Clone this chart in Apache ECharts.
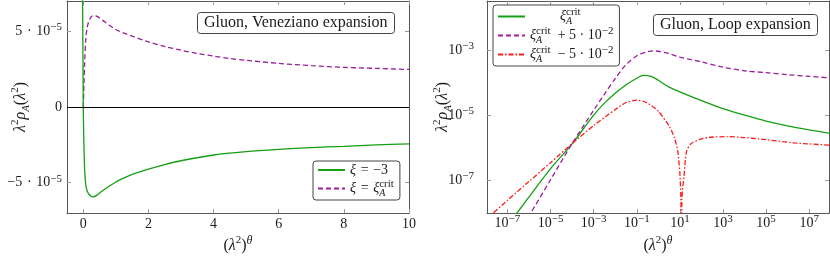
<!DOCTYPE html>
<html><head><meta charset="utf-8">
<script src="https://cdn.jsdelivr.net/npm/echarts@6/dist/echarts.min.js"></script>
<style>html,body{margin:0;padding:0;background:#fff}#c{width:830px;height:256px}</style>
</head><body><div id="c"></div>
<script>
// ---------- Left panel: Gluon, Veneziano expansion ----------
const venTicksX = [0, 2, 4, 6, 8, 10];
const venTicksY = [-5e-5, 0, 5e-5];
const venXi3X = [-0.025, 0, 0.01, 0.025, 0.05, 0.075, 0.1, 0.14, 0.18, 0.23, 0.29, 0.4, 0.55, 0.75, 1.0, 1.25, 1.5, 2, 2.5, 3, 4, 5, 6, 7, 8, 9, 10];
const venXi3Y = [8.5e-5, 0, -1.5e-5, -3.0e-5, -4.5e-5, -5.1e-5, -5.4e-5, -5.65e-5, -5.78e-5, -5.88e-5, -5.93e-5, -5.85e-5, -5.6e-5, -5.3e-5, -4.95e-5, -4.68e-5, -4.45e-5, -4.1e-5, -3.8e-5, -3.55e-5, -3.17e-5, -2.95e-5, -2.8e-5, -2.68e-5, -2.6e-5, -2.5e-5, -2.43e-5];
const venCritX = [0, 0.02, 0.04, 0.08, 0.12, 0.18, 0.25, 0.34, 0.45, 0.6, 0.8, 1.0, 1.25, 1.5, 2.0, 2.5, 3, 3.5, 4, 4.5, 5, 6, 7, 8, 9, 10];
const venCritY = [0, 1.5e-5, 2.8e-5, 4.6e-5, 5.25e-5, 5.73e-5, 5.97e-5, 6.06e-5, 5.95e-5, 5.72e-5, 5.4e-5, 5.12e-5, 4.88e-5, 4.68e-5, 4.3e-5, 4.0e-5, 3.75e-5, 3.54e-5, 3.36e-5, 3.2e-5, 3.08e-5, 2.88e-5, 2.73e-5, 2.62e-5, 2.55e-5, 2.48e-5];

// ---------- Right panel: Gluon, Loop expansion ----------
const loopTicksX = [1e-7, 1e-5, 1e-3, 1e-1, 1e1, 1e3, 1e5, 1e7];
const loopTicksY = [1e-7, 1e-5, 1e-3];
const loopCritX = [1e-8, 1e-7, 1e-6, 1e-5, 1e-4, 1e-3, 3e-3, 1e-2, 3e-2, 0.1, 0.2, 0.5, 1, 3, 10, 100, 1e3, 1e4, 1e5, 1e6, 1e7, 1e8];
const loopCritY = [5.4e-10, 4.1e-9, 3.1e-8, 2.3e-7, 1.32e-6, 1.0e-5, 2.25e-5, 4.7e-5, 8.3e-5, 1.35e-4, 1.66e-4, 1.51e-4, 1.17e-4, 7.4e-5, 5.2e-5, 2.8e-5, 1.58e-5, 1.0e-5, 6.6e-6, 4.7e-6, 3.55e-6, 2.75e-6];
const loopPlusX = [1e-7, 1e-6, 1e-5, 1e-4, 1e-3, 3e-3, 1e-2, 3e-2, 0.1, 0.3, 0.6, 1, 3, 10, 30, 100, 1e3, 1e4, 1e5, 1e6, 1e7, 1e8];
const loopPlusY = [6.3e-10, 8.1e-9, 1.05e-7, 1.35e-6, 1.41e-5, 4.2e-5, 1.32e-4, 3.4e-4, 6.6e-4, 8.7e-4, 9.3e-4, 9.1e-4, 7.8e-4, 6.0e-4, 5.1e-4, 4.3e-4, 2.95e-4, 2.3e-4, 2.0e-4, 1.74e-4, 1.55e-4, 1.38e-4];
const loopMinusX = [1e-8, 1e-7, 1e-6, 1e-5, 1e-4, 1e-3, 1e-2, 3e-2, 0.1, 0.3, 1, 3.4, 5.6, 8, 10, 11.2, 11.7, 12.3, 13.5, 15.5, 18, 21, 30, 42, 100, 250, 1500, 1e4, 5e4, 2e6, 1e8];
const loopMinusY = [6.3e-9, 2.45e-8, 9.3e-8, 3.5e-7, 1.35e-6, 4.8e-6, 1.48e-5, 2.4e-5, 2.9e-5, 2.4e-5, 1.32e-5, 4.3e-6, 2.0e-6, 7.9e-7, 1.6e-7, 2.5e-8, 1e-10, 2.5e-8, 6e-8, 1.26e-7, 4.5e-7, 8.3e-7, 1.26e-6, 1.48e-6, 1.86e-6, 2.1e-6, 2.2e-6, 2.05e-6, 1.86e-6, 1.41e-6, 1.2e-6];

const F = '"Liberation Serif", "DejaVu Serif", serif';
const TC = '#1a1a1a';
const GREEN = '#13a013', PURPLE = '#9a1d9a', RED = '#ff1a1a';
const FRAME = '#555', TICK = '#9a9a9a';

const rich = {
  r:   {fontFamily: F, fontSize: 14, color: TC, lineHeight: 19},
  i:   {fontFamily: F, fontSize: 14, color: TC, lineHeight: 19, fontStyle: 'italic'},
  R:   {fontFamily: F, fontSize: 16, color: TC, lineHeight: 22},
  I:   {fontFamily: F, fontSize: 16, color: TC, lineHeight: 22, fontStyle: 'italic'},
  sup: {fontFamily: F, fontSize: 11, color: TC, lineHeight: 12, verticalAlign: 'top'},
  supi:{fontFamily: F, fontSize: 12, color: TC, lineHeight: 12, verticalAlign: 'top', fontStyle: 'italic'},
  sub: {fontFamily: F, fontSize: 11, color: TC, lineHeight: 11, verticalAlign: 'bottom', fontStyle: 'italic'},
  subz:{fontFamily: F, fontSize: 10, color: TC, lineHeight: 11, verticalAlign: 'bottom', fontStyle: 'italic', width: 0.01},
  pad: {width: 30}
};
const SP = '\u2004';
const xiCrit = '{i|ξ}{subz|A}{sup|crit}';
const legendText = {
  vXi3: '{i|ξ}{r|' + SP + '=' + SP + '−3}',
  vCrit: '{i|ξ}{r|' + SP + '=' + SP + '}' + xiCrit,
  lCrit: '{pad|}' + xiCrit,
  lPlus: xiCrit + '{r|  + 5 · 10}{sup|−2}',
  lMinus: xiCrit + '{r|  − 5 · 10}{sup|−2}'
};
const yName = '{I|λ}{sup|2}{I|ρ}{sub|A}{R|(}{I|λ}{sup|2}{R|)}';
const xName = '{R|(}{I|λ}{sup|2}{R|)}{supi|θ}';

function pow10Label(v) {
  const e = Math.round(Math.log10(v));
  return '{r|10}{sup|' + (e < 0 ? '−' + (-e) : e) + '}';
}
function venYLabel(v) {
  if (v === 0) return '{r|0}';
  const m = Math.round(v / 1e-5);
  return '{r|' + (m < 0 ? '−' + (-m) : m) + SP + '·' + SP + '10}{sup|−5}';
}

const tickStyle = (vals) => ({show: true, inside: true, length: 4, customValues: vals, lineStyle: {color: TICK, width: 1}});
const lineAx = {show: true, onZero: false, lineStyle: {color: FRAME, width: 1}};

const venGrid = {left: 67, right: 421, top: 1, bottom: 43, outerBoundsMode: 'none', containLabel: false};
const loopGrid = {left: 487, right: 1, top: 1, bottom: 43, outerBoundsMode: 'none', containLabel: false};
const LX = [1.122e-8, 8.3e7];
const LY = [1e-8, 0.03162];

function pairs(xs, ys) { return xs.map((x, k) => [x, ys[k]]); }

const titleBox = {padding: [3, 7, 3, 7], borderColor: '#444', borderWidth: 1, borderRadius: 3, backgroundColor: '#fff',
  textStyle: {fontFamily: F, fontSize: 16, fontWeight: 'normal', color: TC}};
const legendBox = {orient: 'vertical', itemWidth: 27, itemHeight: 12, padding: [2, 6, 2, 4],
  borderColor: '#444', borderWidth: 1, borderRadius: 3, backgroundColor: '#fff',
  itemStyle: {opacity: 0}, formatter: n => legendText[n], textStyle: {rich: rich, fontFamily: F}};

const nameCommon = {nameLocation: 'middle', nameMoveOverlap: false, nameTextStyle: {rich: rich}};

const option = {
  animation: false,
  grid: [venGrid, loopGrid],
  title: [
    Object.assign({text: 'Gluon, Veneziano expansion', left: 197, top: 12}, titleBox),
    Object.assign({text: 'Gluon, Loop expansion', left: 653, top: 14}, titleBox)
  ],
  legend: [
    Object.assign({data: ['vXi3', 'vCrit'], left: 313, top: 161, itemGap: 2}, legendBox),
    Object.assign({data: ['lCrit', 'lPlus', 'lMinus'], left: 493, top: 5, itemGap: 0}, legendBox)
  ],
  xAxis: [
    Object.assign({type: 'value', gridIndex: 0, min: -0.5, max: 10, position: 'bottom', axisLine: lineAx, splitLine: {show: false},
     axisTick: tickStyle(venTicksX), axisLabel: {customValues: venTicksX, margin: 2, formatter: v => '{r|' + v + '}', rich: rich},
     name: xName, nameGap: 22}, nameCommon),
    {type: 'value', gridIndex: 0, min: -0.5, max: 10, position: 'top', axisLine: lineAx, splitLine: {show: false},
     axisTick: tickStyle(venTicksX), axisLabel: {show: false}},
    Object.assign({type: 'log', gridIndex: 1, min: LX[0], max: LX[1], position: 'bottom', axisLine: lineAx, splitLine: {show: false},
     axisTick: tickStyle(loopTicksX), minorTick: {show: false},
     axisLabel: {customValues: loopTicksX, margin: 1, formatter: pow10Label, rich: rich},
     name: xName, nameGap: 22}, nameCommon),
    {type: 'log', gridIndex: 1, min: LX[0], max: LX[1], position: 'top', axisLine: lineAx, splitLine: {show: false},
     axisTick: tickStyle(loopTicksX), axisLabel: {show: false}}
  ],
  yAxis: [
    Object.assign({type: 'value', gridIndex: 0, min: -7e-5, max: 7e-5, position: 'left', axisLine: lineAx, splitLine: {show: false},
     axisTick: tickStyle(venTicksY), axisLabel: {customValues: venTicksY, margin: 5, formatter: venYLabel, rich: rich},
     name: yName, nameGap: 35}, nameCommon),
    {type: 'value', gridIndex: 0, min: -7e-5, max: 7e-5, position: 'right', axisLine: lineAx, splitLine: {show: false},
     axisTick: tickStyle(venTicksY), axisLabel: {show: false}},
    Object.assign({type: 'log', gridIndex: 1, min: LY[0], max: LY[1], position: 'left', axisLine: lineAx, splitLine: {show: false},
     axisTick: tickStyle(loopTicksY), axisLabel: {customValues: loopTicksY, margin: 13, formatter: pow10Label, rich: rich},
     name: yName, nameGap: 33}, nameCommon),
    {type: 'log', gridIndex: 1, min: LY[0], max: LY[1], position: 'right', axisLine: lineAx, splitLine: {show: false},
     axisTick: tickStyle(loopTicksY), axisLabel: {show: false}}
  ],
  series: [
    {name: 'vXi3', type: 'line', xAxisIndex: 0, yAxisIndex: 0, data: pairs(venXi3X, venXi3Y), symbol: 'none', smooth: 0.3,
     lineStyle: {color: GREEN, width: 1.3}, itemStyle: {color: GREEN}, clip: true, z: 3,
     markLine: {silent: true, symbol: ['none', 'none'], label: {show: false}, animation: false,
       lineStyle: {color: '#000', type: 'solid', width: 1}, emphasis: {disabled: true}, data: [{yAxis: 0}]}},
    {name: 'vCrit', type: 'line', xAxisIndex: 0, yAxisIndex: 0, data: pairs(venCritX, venCritY), symbol: 'none', smooth: 0.3,
     lineStyle: {color: PURPLE, width: 1.3, type: [5, 3]}, itemStyle: {color: PURPLE}, clip: true, z: 2},
    {name: 'lCrit', type: 'line', xAxisIndex: 2, yAxisIndex: 2, data: pairs(loopCritX, loopCritY), symbol: 'none', smooth: 0.3,
     lineStyle: {color: GREEN, width: 1.3}, itemStyle: {color: GREEN}, clip: true},
    {name: 'lPlus', type: 'line', xAxisIndex: 2, yAxisIndex: 2, data: pairs(loopPlusX, loopPlusY), symbol: 'none', smooth: 0.3,
     lineStyle: {color: PURPLE, width: 1.3, type: [5, 3]}, itemStyle: {color: PURPLE}, clip: true},
    {name: 'lMinus', type: 'line', xAxisIndex: 2, yAxisIndex: 2, data: pairs(loopMinusX, loopMinusY), symbol: 'none', smooth: 0.2,
     lineStyle: {color: RED, width: 1.3, type: [5, 2, 1.5, 2]}, itemStyle: {color: RED}, clip: true}
  ]
};
const chart = echarts.init(document.getElementById('c'), null, {renderer: 'canvas'});
chart.setOption(option);
</script>
</body></html>
